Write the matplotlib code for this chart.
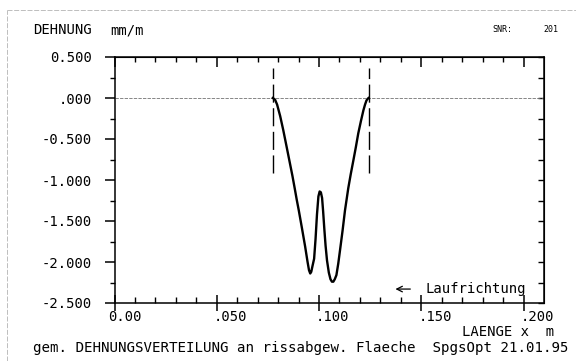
import matplotlib
matplotlib.use('Agg')
import matplotlib.pyplot as plt
from matplotlib.lines import Line2D
from matplotlib.transforms import offset_copy

plt.rcParams['font.family'] = ['DejaVu Sans Mono', 'DejaVu Sans']
plt.rcParams['font.size'] = 10

# gemessene Dehnung (mm/m) ueber Laenge x (m)
laenge = [0.0774, 0.0785, 0.0795, 0.0810, 0.0825, 0.0842, 0.0858, 0.0870, 0.0881, 0.0891,
          0.0901, 0.0916, 0.0932, 0.0944, 0.0951, 0.0957, 0.0962, 0.0968, 0.0976, 0.0983,
          0.0990, 0.0997, 0.1003, 0.1009, 0.1015, 0.1020, 0.1026, 0.1032, 0.1039, 0.1048,
          0.1056, 0.1063, 0.1070, 0.1077, 0.1085, 0.1094, 0.1103, 0.1115, 0.1127, 0.1143,
          0.1155, 0.1168, 0.1180, 0.1192, 0.1205, 0.1217, 0.1225, 0.1232, 0.1238, 0.1242]
dehnung = [0.00, -0.02, -0.08, -0.22, -0.39, -0.60, -0.80, -0.95, -1.10, -1.24,
           -1.37, -1.58, -1.81, -2.00, -2.10, -2.14, -2.12, -2.05, -1.96, -1.72,
           -1.42, -1.20, -1.14, -1.15, -1.22, -1.38, -1.60, -1.80, -1.98, -2.13,
           -2.21, -2.24, -2.24, -2.21, -2.16, -2.02, -1.85, -1.62, -1.37, -1.10,
           -0.93, -0.76, -0.60, -0.43, -0.28, -0.15, -0.08, -0.03, -0.01, 0.00]

# Grenzen der Messstrecke
grenzen = [0.0774, 0.1242]
grenz_y = (-0.92, 0.37)

x_ticks = [0.0, 0.05, 0.10, 0.15, 0.20]
x_labels = ['0.00', '.050', '.100', '.150', '.200']
y_ticks = [0.5, 0.0, -0.5, -1.0, -1.5, -2.0, -2.5]
y_labels = ['0.500', '.000', '-0.500', '-1.000', '-1.500', '-2.000', '-2.500']

W, H = 576, 361
fig = plt.figure(figsize=(W / 100, H / 100), dpi=100)
ax = fig.add_axes([114.5 / W, 1 - 303 / H, (544 - 114.5) / W, (303 - 57) / H])
ax.set_xlim(0, 0.21)
ax.set_ylim(-2.5, 0.5)

for s in ax.spines.values():
    s.set_linewidth(1.1)

ax.axhline(0, color='0.45', lw=0.6, ls=(0, (4, 1.5)))
for g in grenzen:
    ax.plot([g, g], grenz_y, color='black', lw=1.0, ls=(0, (13, 4)))
ax.plot(laenge, dehnung, color='black', lw=1.7)

# y Achse links
ax.set_yticks(y_ticks)
ax.set_yticklabels(y_labels)
ax.set_yticks([0.25, -0.25, -0.75, -1.25, -1.75, -2.25], minor=True)
ax.tick_params(axis='y', which='major', direction='out', length=7.2, width=1.1, pad=9)
ax.tick_params(axis='y', which='minor', direction='out', length=3.6, width=1.0)

# x Achse unten, Beschriftung per Hand (Dezimalpunkt am Strich)
ax.set_xticks(x_ticks)
ax.set_xticklabels([])
ax.set_xticks([i / 100 for i in range(21) if i % 5], minor=True)
ax.tick_params(axis='x', which='major', direction='inout', length=11, width=1.1)
ax.tick_params(axis='x', which='minor', direction='in', length=4, width=1.0)
for xt, lab in zip(x_ticks, x_labels):
    dx = -6 if lab == '0.00' else -3
    tr = offset_copy(ax.get_xaxis_transform(), fig=fig, x=dx, y=-14, units='dots')
    ax.text(xt, 0, lab, transform=tr, ha='left', va='center')

# Striche oben und rechts nach innen
top = ax.secondary_xaxis('top')
top.set_xticks(x_ticks)
top.set_xticklabels([])
top.set_xticks([i / 100 for i in range(21) if i % 5], minor=True)
top.tick_params(which='major', direction='in', length=7.5, width=1.1)
top.tick_params(which='minor', direction='in', length=3.6, width=1.0)
right = ax.secondary_yaxis('right')
right.set_yticks([0.5 - 0.25 * i for i in range(13)])
right.set_yticklabels([])
right.tick_params(direction='in', length=4, width=1.0)

# Laufrichtung
ax.annotate('', xy=(0.136, -2.33), xytext=(0.146, -2.33),
            arrowprops=dict(arrowstyle='->', lw=0.9, color='black'))
ax.text(0.1523, -2.33, 'Laufrichtung', ha='left', va='center')


def ftext(x, y, s, **kw):
    fig.text(x / W, 1 - y / H, s, **kw)


ftext(33, 30, 'DEHNUNG', va='center')
ftext(110, 30, 'mm/m', va='center')
ftext(492, 29, 'SNR:', va='center', fontsize=6)
ftext(543, 29, '201', va='center', fontsize=6)
ftext(462, 332, 'LAENGE x  m', va='center')
ftext(33, 348, 'gem. DEHNUNGSVERTEILUNG an rissabgew. Flaeche  SpgsOpt 21.01.95',
      va='center', fontsize=10.2)

# duenner Rahmen des Blattes
fig.add_artist(Line2D([7 / W, 1], [1 - 10 / H] * 2, color='0.7', lw=0.6, ls=(0, (6, 2))))
fig.add_artist(Line2D([7 / W] * 2, [0, 1 - 10 / H], color='0.7', lw=0.6, ls=(0, (6, 2))))

fig.savefig('out.png', dpi=100)
